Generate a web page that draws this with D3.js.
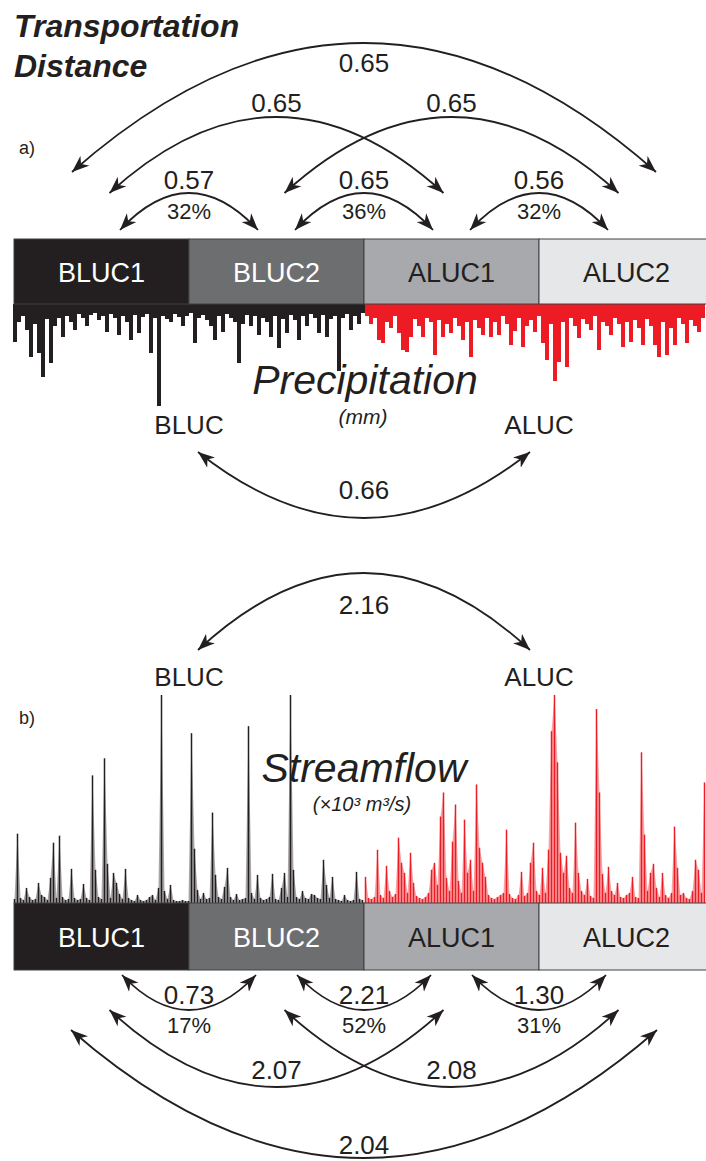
<!DOCTYPE html>
<html>
<head>
<meta charset="utf-8">
<script src="https://cdn.jsdelivr.net/npm/d3@7"></script>
<style>
  body { margin: 0; background: #fff; }
  text { font-family: "Liberation Sans", Arial, Helvetica, sans-serif; fill: #231f20; }
</style>
</head>
<body>
<svg id="chart"></svg>
<script>
// land use classes (before / after land use change)
var categories = ["BLUC1", "BLUC2", "ALUC1", "ALUC2"];
var periods = ["BLUC", "ALUC"];

// daily precipitation (mm)
var precipBLUC = [37,18,12,25,52,20,48,72,15,58,
                  22,14,32,12,18,25,10,14,22,11,
                  9,16,12,27,10,14,30,12,18,35,
                  11,28,13,10,48,14,100,12,15,18,
                  10,13,22,12,9,38,14,11,16,22,
                  35,12,27,10,14,18,58,20,11,22,
                  12,30,14,18,32,12,43,15,28,11,
                  16,35,12,22,10,14,28,11,32,15,
                  12,66,14,10,25,12,20,9];
var precipALUC = [12,20,14,35,38,18,24,12,28,45,
                  47,32,15,22,32,14,18,50,16,32,
                  20,28,14,22,35,18,52,16,24,30,
                  14,32,18,30,12,20,40,26,14,42,
                  22,16,27,12,38,55,20,75,57,18,
                  62,14,22,33,15,20,25,12,45,18,
                  22,30,14,20,42,18,37,16,24,40,
                  15,22,40,52,18,50,24,40,14,20,
                  38,16,22,27,14];

// streamflow (x10^3 m3/s)
var flowBLUC = [0.04,0.69,0.05,0.03,0.15,0.06,0.03,0.04,0.20,0.08,
                0.06,0.03,0.25,0.60,0.05,0.67,0.06,0.03,0.04,0.34,
                0.05,0.03,0.04,0.19,0.05,0.03,1.27,0.33,0.06,0.04,
                1.44,0.39,0.05,0.30,0.20,0.09,0.04,0.34,0.05,0.03,
                0.02,0.08,0.03,0.02,0.03,0.06,0.08,0.03,0.15,2.07,
                0.12,0.04,0.18,0.03,0.02,0.02,0.03,0.02,0.02,1.69,
                0.54,0.13,0.04,0.10,0.04,0.05,0.90,0.28,0.06,0.04,
                0.16,0.35,0.06,0.03,0.09,0.03,0.04,0.05,1.76,0.10,
                0.04,0.28,0.05,0.03,0.04,0.06,0.29,0.04,0.03,0.15,
                0.30,0.06,2.07,0.33,0.06,0.04,0.12,0.05,0.04,0.09,
                0.08,0.05,0.04,0.43,0.18,0.05,0.26,0.04,0.03,0.02,
                0.08,0.03,0.02,0.03,0.31,0.04,0.03];
var flowALUC = [0.26,0.05,0.04,0.06,0.53,0.08,0.05,0.37,0.12,0.06,
                0.09,0.65,0.40,0.30,0.10,0.50,0.20,0.07,0.05,0.04,
                0.06,0.10,0.33,0.40,0.18,0.86,1.10,0.25,0.12,0.61,
                0.98,0.22,0.10,0.83,0.30,0.43,0.12,1.18,0.55,0.40,
                0.26,0.08,0.05,0.04,0.06,0.08,0.10,0.73,0.09,0.05,
                0.04,0.08,0.31,0.07,0.10,0.40,0.60,0.12,0.08,0.35,
                0.10,0.53,1.71,2.07,1.40,0.50,0.30,0.47,0.15,0.10,
                0.80,0.30,0.12,0.08,0.24,0.07,0.05,1.93,1.10,0.29,
                0.10,0.36,0.12,0.08,0.20,0.06,0.05,0.08,0.10,0.26,
                0.06,0.05,1.50,0.68,0.12,0.30,0.39,0.15,0.06,0.30,
                0.08,0.05,0.10,0.76,0.35,0.08,0.10,0.05,0.04,0.12,
                0.43,0.33,0.10,1.20];

// transportation distances between classes: from, to, distance, share
var precipLinks = [["BLUC1","BLUC2",0.57,"32%"], ["BLUC2","ALUC1",0.65,"36%"], ["ALUC1","ALUC2",0.56,"32%"],
                   ["BLUC1","ALUC1",0.65,""], ["BLUC2","ALUC2",0.65,""], ["BLUC1","ALUC2",0.65,""]];
var flowLinks = [["BLUC1","BLUC2",0.73,"17%"], ["BLUC2","ALUC1",2.21,"52%"], ["ALUC1","ALUC2",1.30,"31%"],
                 ["BLUC1","ALUC1",2.07,""], ["BLUC2","ALUC2",2.08,""], ["BLUC1","ALUC2",2.04,""]];
var precipPeriodDist = 0.66;
var flowPeriodDist = 2.16;

var width = 706, height = 1161;
var ink = "#231f20", red = "#ed1c24";
var boxColor = d3.scaleOrdinal().domain(categories).range(["#231f20", "#6d6e70", "#a7a9ac", "#e6e7e8"]);
var boxText = d3.scaleOrdinal().domain(categories).range(["#fff", "#fff", "#231f20", "#231f20"]);

var svg = d3.select("#chart").attr("width", width).attr("height", height);

svg.append("defs").append("marker")
    .attr("id", "head")
    .attr("viewBox", "0 -7 18 14")
    .attr("refX", 17).attr("refY", 0)
    .attr("markerWidth", 18).attr("markerHeight", 14)
    .attr("markerUnits", "userSpaceOnUse")
    .attr("orient", "auto-start-reverse")
    .append("path")
    .attr("d", "M0,-6.5L17,0L0,6.5L5,0Z")
    .attr("fill", ink);

var x = d3.scaleBand().domain(categories).range([14, 714]);
var cx = function(c) { return x(c) + x.bandwidth() / 2; };

function curve(x0, x1, yEnd, yPeak) {
    var p = d3.path();
    p.moveTo(x0, yEnd);
    p.quadraticCurveTo((x0 + x1) / 2, 2 * yPeak - yEnd, x1, yEnd);
    return p.toString();
}

function drawArrow(g, x0, x1, yEnd, yPeak) {
    g.append("path")
        .attr("d", curve(x0, x1, yEnd, yPeak))
        .attr("fill", "none")
        .attr("stroke", ink)
        .attr("stroke-width", 1.8)
        .attr("marker-start", "url(#head)")
        .attr("marker-end", "url(#head)");
}

function label(xp, yp, size, txt, style) {
    return svg.append("text").attr("x", xp).attr("y", yp)
        .attr("text-anchor", "middle")
        .style("font-size", size + "px")
        .style("font-style", style || "normal")
        .text(txt);
}

function drawBoxes(y0, h) {
    var g = svg.append("g");
    g.selectAll("rect").data(categories).enter().append("rect")
        .attr("x", function(d) { return x(d); })
        .attr("y", y0)
        .attr("width", x.bandwidth())
        .attr("height", h)
        .attr("fill", function(d) { return boxColor(d); })
        .attr("stroke", "#414042")
        .attr("stroke-width", 1);
    g.selectAll("text").data(categories).enter().append("text")
        .attr("x", cx)
        .attr("y", y0 + h / 2 + 10)
        .attr("text-anchor", "middle")
        .style("font-size", "27px")
        .style("fill", function(d) { return boxText(d); })
        .text(function(d) { return d; });
}

function drawLinks(links, geo) {
    var g = svg.append("g");
    links.forEach(function(l) {
        var i0 = categories.indexOf(l[0]), i1 = categories.indexOf(l[1]);
        var lev = geo[i1 - i0];
        var mid = (cx(l[0]) + cx(l[1])) / 2;
        drawArrow(g, mid - lev.half, mid + lev.half, lev.end, lev.peak);
        label(mid, lev.lab, 26, l[2].toFixed(2));
        if (l[3]) label(mid, lev.pct, 22, l[3]);
    });
}

// ---------- title ----------
svg.append("text").attr("x", 14).attr("y", 37)
    .style("font-size", "32px").style("font-weight", "bold").style("font-style", "italic")
    .text("Transportation");
svg.append("text").attr("x", 14).attr("y", 77)
    .style("font-size", "32px").style("font-weight", "bold").style("font-style", "italic")
    .text("Distance");

// ---------- a) precipitation ----------
svg.append("text").attr("x", 19).attr("y", 154).style("font-size", "18px").text("a)");

drawLinks(precipLinks, {
    1: {half: 69, end: 230, peak: 193, lab: 189, pct: 219},
    2: {half: 167, end: 193, peak: 117, lab: 112},
    3: {half: 292, end: 172, peak: 43, lab: 72}
});

var nP = precipBLUC.length + precipALUC.length;
var xP = d3.scaleLinear().domain([0, nP]).range([13, 705]);
var yP = d3.scaleLinear().domain([0, 100]).range([304, 406]);
var precip = precipBLUC.map(function(v, i) { return {i: i, v: v, c: ink}; })
    .concat(precipALUC.map(function(v, i) { return {i: i + precipBLUC.length, v: v, c: red}; }));
svg.append("g").attr("shape-rendering", "crispEdges")
    .selectAll("rect").data(precip).enter().append("rect")
    .attr("x", function(d) { return xP(d.i); })
    .attr("y", yP(0))
    .attr("width", xP(1) - xP(0) + 0.4)
    .attr("height", function(d) { return yP(d.v) - yP(0); })
    .attr("fill", function(d) { return d.c; });

drawBoxes(239, 65);

label(365, 394, 41, "Precipitation", "italic");
label(363, 424, 21, "(mm)", "italic");

var pb = x("BLUC2"), pa = x("ALUC2");
label(pb, 434, 26, periods[0]);
label(pa, 434, 26, periods[1]);
drawArrow(svg.append("g"), pb + 9, pa - 9, 452, 518);
label((pb + pa) / 2, 499, 26, precipPeriodDist.toFixed(2));

// ---------- b) streamflow ----------
drawArrow(svg.append("g"), pb + 9, pa - 9, 650, 573);
label((pb + pa) / 2, 614, 26, flowPeriodDist.toFixed(2));
label(pb, 686, 26, periods[0]);
label(pa, 686, 26, periods[1]);

svg.append("text").attr("x", 19).attr("y", 724).style("font-size", "18px").text("b)");

label(364, 782, 41, "Streamflow", "italic");
label(362, 811, 20, "(\u00d710\u00b3 m\u00b3/s)", "italic");

var nF = flowBLUC.length + flowALUC.length;
var xF = d3.scaleLinear().domain([0, nF]).range([13, 706]);
var yF = d3.scaleLinear().domain([0, 2.07]).range([903, 695]);
var flowSeries = [
    {c: ink, pts: flowBLUC.map(function(v, i) { return {i: i, v: v}; })},
    {c: red, pts: flowALUC.map(function(v, i) { return {i: i + flowBLUC.length, v: v}; })}
];
var flowArea = d3.area()
    .x(function(d) { return xF(d.i + 0.5); })
    .y0(yF(0))
    .y1(function(d) { return yF(d.v); });
var fg = svg.append("g");
flowSeries.forEach(function(s) {
    fg.append("path").attr("d", flowArea(s.pts)).attr("fill", s.c).attr("opacity", 0.4);
    fg.selectAll(null).data(s.pts).enter().append("rect")
        .attr("x", function(d) { return xF(d.i + 0.5) - 0.75; })
        .attr("y", function(d) { return yF(d.v); })
        .attr("width", 1.5)
        .attr("height", function(d) { return yF(0) - yF(d.v); })
        .attr("fill", s.c);
});

drawBoxes(903, 67);

drawLinks(flowLinks, {
    1: {half: 67, end: 975, peak: 1010, lab: 1004, pct: 1033},
    2: {half: 167, end: 1010, peak: 1087, lab: 1079},
    3: {half: 293, end: 1030, peak: 1158, lab: 1154}
});
</script>
</body>
</html>
